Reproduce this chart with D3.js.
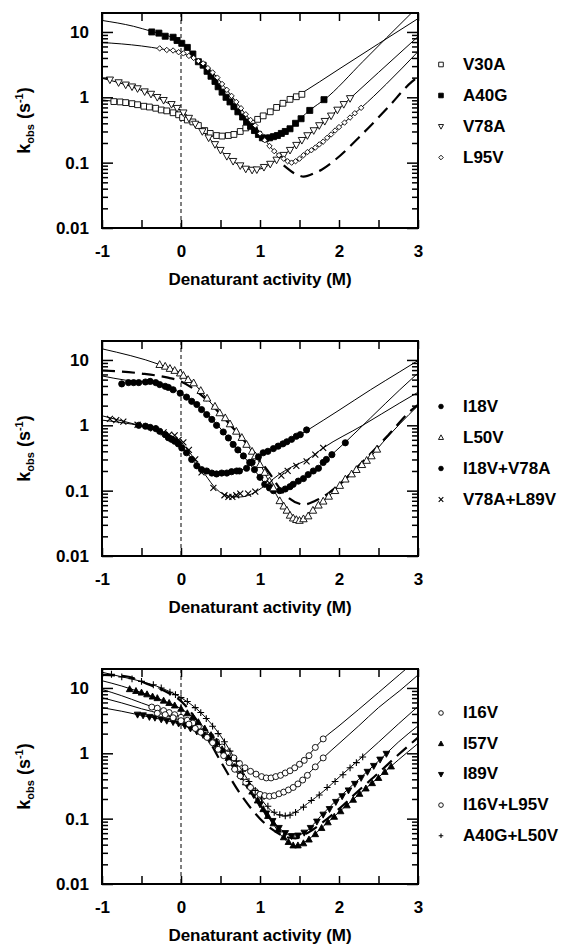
<!DOCTYPE html>
<html><head><meta charset="utf-8">
<script src="https://cdn.jsdelivr.net/npm/d3@7"></script>
<style>
html,body{margin:0;padding:0;background:#fff;}
svg{display:block;}
text{font-family:"Liberation Sans",Arial,Helvetica,sans-serif;font-weight:bold;fill:#000;}
</style></head><body>
<svg id="chart" width="561" height="944"></svg>
<script>
// ---------- axis ticks ----------
const xTickValues = [-1, 0, 1, 2, 3];
const xTickLabels = ["-1", "0", "1", "2", "3"];
const xMinorValues = [-0.5, 0.5, 1.5, 2.5];
const yTickValues = [0.01, 0.1, 1, 10];
const yTickLabels = ["0.01", "0.1", "1", "10"];
const xTitle = "Denaturant activity (M)";

// ---------- panel 1 ----------
const v30aPts = [[-0.85,0.86],[-0.77,0.85],[-0.7,0.83],[-0.62,0.8],[-0.55,0.77],[-0.47,0.73],[-0.4,0.71],[-0.32,0.68],[-0.25,0.64],[-0.18,0.62],[-0.1,0.58],[-0.03,0.54],[0.02,0.49],[0.08,0.45],[0.15,0.42],[0.22,0.37],[0.3,0.31],[0.37,0.28],[0.45,0.26],[0.52,0.255],[0.6,0.26],[0.67,0.27],[0.75,0.3],[0.82,0.34],[0.9,0.4],[0.97,0.46],[1.04,0.52],[1.13,0.6],[1.21,0.7],[1.29,0.81],[1.38,0.93],[1.46,1.02],[1.53,1.11]];
const v30aFit = [[-1,0.91],[-0.75,0.84],[-0.5,0.75],[-0.25,0.64],[0,0.5],[0.13,0.43],[0.26,0.34],[0.4,0.27],[0.55,0.255],[0.68,0.28],[0.8,0.33],[0.92,0.41],[1.1,0.57],[1.27,0.75],[1.5,1.1],[2.0,2.7],[2.5,6.6],[3.0,16]];
const a40gPts = [[-0.37,10.0],[-0.28,9.6],[-0.2,8.6],[-0.1,8.3],[-0.05,7.4],[0.01,6.7],[0.08,5.8],[0.15,4.6],[0.22,3.5],[0.28,3.1],[0.33,2.5],[0.38,2.1],[0.43,1.75],[0.47,1.45],[0.52,1.2],[0.57,1.0],[0.62,0.85],[0.67,0.72],[0.72,0.6],[0.78,0.5],[0.83,0.42],[0.88,0.36],[0.93,0.31],[0.98,0.27],[1.03,0.24],[1.07,0.235],[1.12,0.24],[1.17,0.25],[1.22,0.26],[1.27,0.28],[1.32,0.3],[1.38,0.33],[1.45,0.4],[1.52,0.47],[1.63,0.63],[1.81,0.92]];
const a40gFit = [[-1,15],[-0.6,12.2],[-0.37,10.2],[-0.15,8.6],[0,6.8],[0.1,5.3],[0.2,3.8],[0.3,2.7],[0.41,1.85],[0.5,1.3],[0.58,0.93],[0.68,0.66],[0.77,0.48],[0.9,0.33],[1.0,0.25],[1.07,0.235],[1.16,0.25],[1.29,0.29],[1.41,0.36],[1.51,0.47],[1.64,0.65],[1.81,0.91],[2.3,3.5],[2.6,8.1],[3.0,24.5]];
const v78aPts = [[-0.9,1.85],[-0.79,1.68],[-0.7,1.55],[-0.62,1.45],[-0.55,1.36],[-0.46,1.22],[-0.38,1.12],[-0.3,1.0],[-0.22,0.9],[-0.12,0.78],[-0.05,0.68],[0.03,0.58],[0.1,0.48],[0.18,0.39],[0.27,0.3],[0.35,0.24],[0.43,0.19],[0.5,0.155],[0.58,0.125],[0.66,0.105],[0.75,0.09],[0.82,0.08],[0.9,0.077],[0.96,0.078],[1.05,0.085],[1.13,0.095],[1.21,0.11],[1.3,0.13],[1.38,0.155],[1.46,0.185],[1.53,0.22],[1.6,0.26],[1.68,0.31],[1.75,0.37],[1.82,0.43],[1.9,0.52],[1.98,0.64],[2.06,0.78],[2.14,0.96]];
const v78aFit = [[-1,1.95],[-0.79,1.68],[-0.46,1.22],[-0.12,0.76],[0,0.63],[0.15,0.44],[0.3,0.28],[0.43,0.19],[0.6,0.12],[0.75,0.09],[0.9,0.078],[1.0,0.08],[1.21,0.11],[1.53,0.22],[1.82,0.43],[2.14,0.96],[2.5,2.4],[3.0,8.5]];
const l95vPts = [[-0.27,5.6],[-0.18,5.3],[-0.1,5.2],[-0.03,4.9],[0.03,4.7],[0.1,4.3],[0.16,4.0],[0.22,3.6],[0.28,3.3],[0.34,2.8],[0.4,2.4],[0.46,2.0],[0.52,1.6],[0.58,1.3],[0.64,1.05],[0.7,0.85],[0.76,0.68],[0.82,0.55],[0.88,0.45],[0.94,0.37],[1.0,0.28],[1.06,0.22],[1.12,0.18],[1.18,0.15],[1.24,0.13],[1.3,0.115],[1.35,0.105],[1.4,0.1],[1.45,0.105],[1.5,0.115],[1.55,0.13],[1.6,0.145],[1.65,0.155],[1.7,0.17],[1.75,0.19],[1.8,0.21],[1.85,0.24],[1.9,0.27],[1.95,0.31],[2.0,0.35],[2.07,0.41],[2.14,0.49],[2.2,0.57],[2.28,0.69]];
const l95vFit = [[-1,6.9],[-0.5,6.1],[-0.25,5.5],[0,4.8],[0.2,3.7],[0.43,2.2],[0.55,1.45],[0.68,0.91],[0.81,0.56],[0.94,0.36],[1.04,0.25],[1.12,0.18],[1.21,0.14],[1.3,0.115],[1.38,0.102],[1.47,0.108],[1.57,0.135],[1.78,0.2],[1.97,0.32],[2.2,0.57],[2.28,0.69],[2.6,1.6],[3.0,5.0]];
// wild-type reference (dashed), panels 1 and 2
const wtFit = [[-1,6.9],[-0.5,6.2],[-0.18,5.4],[0,4.7],[0.25,2.95],[0.5,1.48],[0.75,0.68],[0.9,0.42],[1.1,0.2],[1.3,0.091],[1.5,0.063],[1.55,0.061],[1.7,0.07],[1.78,0.078],[1.95,0.11],[2.29,0.27],[2.62,0.7],[2.92,1.72],[3.0,2.05]];

// ---------- panel 2 ----------
const i18vPts = [[-0.75,4.3],[-0.665,4.5],[-0.6,4.5],[-0.535,4.5],[-0.45,4.6],[-0.39,4.7],[-0.32,4.5],[-0.27,4.2],[-0.2,3.95],[-0.16,3.8],[-0.1,3.5],[-0.01,3.1],[0.07,2.7],[0.135,2.33],[0.2,2.08],[0.26,1.74],[0.325,1.46],[0.39,1.23],[0.45,1.0],[0.535,0.79],[0.6,0.64],[0.66,0.51],[0.72,0.42],[0.79,0.34],[0.87,0.27],[0.93,0.21],[1.0,0.16],[1.06,0.125],[1.12,0.11],[1.17,0.1],[1.25,0.1],[1.32,0.106],[1.38,0.115],[1.42,0.125],[1.485,0.14],[1.55,0.153],[1.61,0.176],[1.675,0.2],[1.74,0.22],[1.8,0.27],[1.84,0.3],[1.91,0.355],[2.08,0.54]];
const i18vFit = [[-1,5.7],[-0.7,4.9],[-0.4,4.5],[-0.2,3.95],[0,3.1],[0.2,2.05],[0.39,1.25],[0.535,0.8],[0.66,0.52],[0.79,0.34],[0.9,0.23],[1.0,0.16],[1.1,0.115],[1.2,0.1],[1.3,0.104],[1.42,0.124],[1.55,0.155],[1.7,0.21],[1.84,0.3],[2.08,0.55],[2.4,1.3],[2.77,3.5],[3.0,6.3]];
const l50vPts = [[-0.27,8.5],[-0.2,8.0],[-0.14,7.4],[-0.08,6.9],[-0.01,6.3],[0.03,5.8],[0.09,5.0],[0.16,4.45],[0.25,3.4],[0.33,2.6],[0.43,1.95],[0.49,1.55],[0.56,1.3],[0.62,1.05],[0.7,0.81],[0.77,0.65],[0.83,0.51],[0.9,0.4],[0.94,0.34],[1.0,0.25],[1.06,0.19],[1.12,0.14],[1.17,0.11],[1.25,0.07],[1.3,0.058],[1.34,0.05],[1.38,0.042],[1.42,0.038],[1.46,0.036],[1.5,0.035],[1.55,0.037],[1.61,0.041],[1.67,0.05],[1.74,0.06],[1.8,0.069],[1.87,0.082],[1.95,0.1],[2.01,0.12],[2.08,0.15],[2.16,0.18],[2.22,0.21],[2.29,0.25],[2.35,0.29],[2.41,0.34],[2.48,0.43]];
const l50vFit = [[-1,14.8],[-0.27,8.5],[0,6.3],[0.155,4.5],[0.325,2.6],[0.49,1.55],[0.62,1.05],[0.77,0.65],[0.895,0.4],[1.0,0.26],[1.085,0.16],[1.17,0.105],[1.25,0.07],[1.34,0.05],[1.42,0.039],[1.5,0.035],[1.6,0.041],[1.74,0.061],[1.87,0.082],[2.01,0.12],[2.16,0.18],[2.29,0.25],[2.41,0.34],[2.55,0.54],[2.77,1.05],[3.0,2.0]];
const i18vV78aPts = [[-0.535,1.0],[-0.45,0.97],[-0.39,0.93],[-0.32,0.89],[-0.27,0.81],[-0.2,0.72],[-0.16,0.645],[-0.12,0.61],[-0.08,0.57],[-0.035,0.52],[0.01,0.45],[0.07,0.38],[0.135,0.3],[0.2,0.24],[0.26,0.21],[0.325,0.2],[0.39,0.186],[0.45,0.18],[0.515,0.186],[0.58,0.186],[0.64,0.195],[0.705,0.2],[0.74,0.2],[0.83,0.22],[0.9,0.27],[0.98,0.33],[1.04,0.38],[1.1,0.4],[1.17,0.44],[1.23,0.48],[1.29,0.52],[1.34,0.56],[1.4,0.61],[1.46,0.68],[1.51,0.72],[1.59,0.85]];
const i18vV78aFit = [[-1,1.2],[-0.75,1.1],[-0.5,0.98],[-0.3,0.86],[-0.1,0.6],[0.07,0.39],[0.2,0.25],[0.3,0.205],[0.45,0.183],[0.6,0.188],[0.75,0.203],[0.85,0.235],[0.95,0.3],[1.04,0.37],[1.17,0.44],[1.29,0.52],[1.4,0.61],[1.51,0.72],[1.6,0.84],[2.0,1.7],[2.4,3.5],[2.77,6.6],[3.0,9.8]];
const v78aL89vPts = [[-0.9,1.25],[-0.82,1.2],[-0.73,1.14],[-0.55,1.02],[-0.35,0.9],[-0.22,0.78],[-0.15,0.72],[-0.08,0.7],[-0.03,0.6],[0.03,0.55],[0.1,0.42],[0.18,0.3],[0.26,0.19],[0.41,0.11],[0.55,0.085],[0.6,0.08],[0.65,0.08],[0.7,0.085],[0.75,0.09],[0.85,0.09],[0.94,0.097],[1.12,0.13],[1.27,0.17],[1.35,0.2],[1.46,0.24],[1.59,0.28],[1.7,0.355],[1.8,0.45]];
const v78aL89vFit = [[-1,1.4],[-0.75,1.17],[-0.5,0.98],[-0.25,0.8],[0,0.55],[0.15,0.33],[0.3,0.18],[0.45,0.105],[0.6,0.083],[0.75,0.08],[0.94,0.095],[1.1,0.13],[1.25,0.18],[1.4,0.23],[1.6,0.3],[1.8,0.45],[2.3,1.0],[2.77,2.2],[3.0,3.2]];

// ---------- panel 3 ----------
const i16vPts = [[-0.37,5.1],[-0.3,4.9],[-0.22,4.5],[-0.15,4.2],[-0.08,3.9],[0.0,3.55],[0.08,3.2],[0.15,2.9],[0.22,2.55],[0.3,2.15],[0.38,1.8],[0.45,1.5],[0.52,1.25],[0.6,1.02],[0.67,0.85],[0.74,0.7],[0.81,0.6],[0.88,0.53],[0.95,0.48],[1.02,0.44],[1.08,0.42],[1.14,0.42],[1.2,0.44],[1.26,0.46],[1.32,0.5],[1.38,0.54],[1.44,0.6],[1.5,0.68],[1.56,0.78],[1.62,0.92],[1.7,1.23],[1.8,1.66]];
const i16vFit = [[-1,9.5],[-0.75,7.6],[-0.5,5.9],[-0.25,4.6],[0,3.55],[0.25,2.4],[0.5,1.32],[0.75,0.68],[1.0,0.45],[1.1,0.42],[1.25,0.46],[1.4,0.56],[1.5,0.68],[1.6,0.89],[1.7,1.23],[1.8,1.66],[2.0,2.63],[2.25,4.7],[2.5,8.5],[2.77,16.2],[3.0,28]];
const i57vPts = [[-0.65,9.6],[-0.57,9.0],[-0.5,8.5],[-0.43,8.0],[-0.36,7.4],[-0.3,7.0],[-0.22,6.4],[-0.15,5.9],[-0.08,5.4],[0.0,4.8],[0.08,4.1],[0.15,3.6],[0.22,3.0],[0.3,2.4],[0.38,1.9],[0.45,1.5],[0.52,1.15],[0.6,0.85],[0.68,0.62],[0.75,0.48],[0.82,0.36],[0.9,0.26],[0.97,0.19],[1.04,0.14],[1.1,0.11],[1.17,0.085],[1.23,0.068],[1.3,0.052],[1.36,0.044],[1.42,0.039],[1.48,0.039],[1.55,0.042],[1.62,0.048],[1.7,0.058],[1.78,0.072],[1.86,0.088],[1.94,0.107],[2.02,0.13],[2.1,0.16],[2.18,0.195],[2.26,0.24],[2.34,0.29],[2.42,0.35],[2.5,0.42],[2.58,0.52],[2.66,0.63]];
const i57vFit = [[-1,12.9],[-0.75,10.7],[-0.5,8.5],[-0.25,6.6],[0,4.8],[0.25,2.8],[0.5,1.26],[0.75,0.48],[1.0,0.166],[1.15,0.089],[1.3,0.05],[1.45,0.038],[1.6,0.047],[1.8,0.076],[2.0,0.126],[2.25,0.234],[2.5,0.43],[2.75,0.79],[3.0,1.41]];
const i89vPts = [[-0.55,3.9],[-0.48,3.8],[-0.4,3.6],[-0.33,3.5],[-0.25,3.3],[-0.18,3.15],[-0.1,3.0],[-0.03,2.85],[0.05,2.65],[0.12,2.4],[0.2,2.15],[0.28,1.9],[0.36,1.6],[0.44,1.3],[0.52,1.05],[0.6,0.8],[0.68,0.6],[0.76,0.44],[0.84,0.32],[0.92,0.23],[1.0,0.165],[1.08,0.12],[1.16,0.092],[1.24,0.072],[1.32,0.06],[1.4,0.054],[1.48,0.055],[1.56,0.061],[1.64,0.072],[1.72,0.09],[1.8,0.115],[1.88,0.14],[1.96,0.18],[2.04,0.22],[2.12,0.27],[2.2,0.34],[2.28,0.42],[2.36,0.52],[2.44,0.64],[2.52,0.8],[2.6,0.98]];
const i89vFit = [[-1,5.0],[-0.75,4.4],[-0.5,3.8],[-0.25,3.3],[0,2.75],[0.25,2.0],[0.5,1.12],[0.75,0.45],[1.0,0.16],[1.15,0.095],[1.3,0.063],[1.42,0.054],[1.55,0.06],[1.8,0.12],[2.0,0.21],[2.25,0.4],[2.5,0.76],[2.75,1.48],[3.0,2.63]];
const i16vL95vPts = [[-0.3,4.1],[-0.2,3.9],[-0.1,3.5],[0.0,3.16],[0.1,2.8],[0.18,2.4],[0.25,2.1],[0.33,1.75],[0.4,1.45],[0.47,1.15],[0.54,0.92],[0.61,0.72],[0.68,0.57],[0.75,0.45],[0.82,0.36],[0.88,0.3],[0.94,0.26],[1.0,0.235],[1.06,0.225],[1.12,0.22],[1.18,0.225],[1.24,0.24],[1.3,0.255],[1.36,0.275],[1.42,0.3],[1.48,0.34],[1.54,0.39],[1.6,0.46],[1.7,0.62],[1.8,0.85]];
const i16vL95vFit = [[-1,7.1],[-0.75,5.9],[-0.5,4.8],[-0.25,4.0],[0,3.16],[0.25,2.1],[0.5,1.05],[0.75,0.44],[0.9,0.28],[1.0,0.234],[1.1,0.22],[1.25,0.24],[1.4,0.3],[1.6,0.47],[1.8,0.85],[2.0,1.41],[2.25,2.63],[2.5,5.0],[2.77,9.1],[3.0,15.8]];
const a40gL50vPts = [[-0.88,16.2],[-0.75,14.8],[-0.62,13.8],[-0.5,12.6],[-0.35,11.2],[-0.25,10.0],[-0.14,8.6],[-0.07,7.9],[0.0,7.1],[0.08,6.2],[0.18,5.0],[0.25,4.2],[0.32,3.4],[0.4,2.6],[0.47,2.0],[0.55,1.5],[0.62,1.08],[0.7,0.76],[0.78,0.53],[0.86,0.37],[0.94,0.27],[1.02,0.2],[1.1,0.155],[1.18,0.125],[1.25,0.115],[1.32,0.11],[1.38,0.113],[1.45,0.125],[1.55,0.15],[1.65,0.19],[1.75,0.23],[1.85,0.3],[1.95,0.37],[2.05,0.47],[2.14,0.6],[2.22,0.72],[2.3,0.88]];
const a40gL50vFit = [[-1,17.4],[-0.75,14.8],[-0.5,12.6],[-0.25,10],[0,7.1],[0.25,4.2],[0.5,1.86],[0.75,0.6],[1.0,0.21],[1.15,0.13],[1.3,0.11],[1.45,0.126],[1.6,0.17],[1.8,0.26],[2.0,0.43],[2.25,0.79],[2.5,1.48],[2.75,2.8],[3.0,5.2]];
const dashed3Fit = [[-1,15.8],[-0.7,15.1],[-0.4,11.2],[-0.2,8.9],[0,6.3],[0.25,2.6],[0.5,0.76],[0.75,0.24],[1.0,0.1],[1.15,0.069],[1.3,0.054],[1.45,0.05],[1.6,0.06],[1.8,0.089],[2.0,0.141],[2.25,0.27],[2.5,0.5],[2.75,0.95],[3.0,1.74]];

// ---------- panel configuration ----------
const panels = [
  { top: 13, legendBase: 69.5, legendStep: 31, dashed: wtFit, dashFrom: 1.3,
    series: [
      { name: "V30A", pts: v30aPts, fit: v30aFit, sym: "square", fill: "#fff", size: 2.9 },
      { name: "A40G", pts: a40gPts, fit: a40gFit, sym: "square", fill: "#000", size: 3.0 },
      { name: "V78A", pts: v78aPts, fit: v78aFit, sym: "triDown", fill: "#fff", size: 3.3 },
      { name: "L95V", pts: l95vPts, fit: l95vFit, sym: "diamond", fill: "#fff", size: 2.7 }
    ] },
  { top: 341, legendBase: 411.5, legendStep: 31, dashed: wtFit, dashFrom: -1,
    series: [
      { name: "I18V", pts: i18vPts, fit: i18vFit, sym: "circle", fill: "#000", size: 3.1 },
      { name: "L50V", pts: l50vPts, fit: l50vFit, sym: "triUp", fill: "#fff", size: 3.4 },
      { name: "I18V+V78A", pts: i18vV78aPts, fit: i18vV78aFit, sym: "circle", fill: "#000", size: 3.1 },
      { name: "V78A+L89V", pts: v78aL89vPts, fit: v78aL89vFit, sym: "times", fill: "none", size: 3.0 }
    ] },
  { top: 669, legendBase: 718, legendStep: 30.7, dashed: dashed3Fit, dashFrom: -1,
    series: [
      { name: "I16V", pts: i16vPts, fit: i16vFit, sym: "circle", fill: "#fff", size: 3.0 },
      { name: "I57V", pts: i57vPts, fit: i57vFit, sym: "triUp", fill: "#000", size: 3.0 },
      { name: "I89V", pts: i89vPts, fit: i89vFit, sym: "triDown", fill: "#000", size: 3.0 },
      { name: "I16V+L95V", pts: i16vL95vPts, fit: i16vL95vFit, sym: "circle", fill: "#fff", size: 3.0 },
      { name: "A40G+L50V", pts: a40gL50vPts, fit: a40gL50vFit, sym: "plus", fill: "none", size: 3.4 }
    ] }
];

const plotLeft = 102, plotRight = 418, panelH = 215;
const svg = d3.select("#chart");
const x = d3.scaleLinear().domain([-1, 3]).range([plotLeft, plotRight]);

function symPath(type, s) {
  switch (type) {
    case "square": return `M${-s},${-s}H${s}V${s}H${-s}Z`;
    case "triUp": return `M0,${-s * 1.15}L${s * 1.1},${s * 0.85}L${-s * 1.1},${s * 0.85}Z`;
    case "triDown": return `M0,${s * 1.15}L${s * 1.1},${-s * 0.85}L${-s * 1.1},${-s * 0.85}Z`;
    case "diamond": return `M0,${-s}L${s},0L0,${s}L${-s},0Z`;
    case "times": return `M${-s},${-s}L${s},${s}M${-s},${s}L${s},${-s}`;
    case "plus": return `M${-s},0H${s}M0,${-s}V${s}`;
  }
  return "";
}
function drawSym(g, ser, cx, cy, s) {
  if (ser.sym === "circle") {
    g.append("circle").attr("cx", cx).attr("cy", cy).attr("r", s)
      .attr("fill", ser.fill).attr("stroke", "#000").attr("stroke-width", 0.9);
  } else {
    g.append("path").attr("transform", `translate(${cx},${cy})`).attr("d", symPath(ser.sym, s))
      .attr("fill", ser.fill).attr("stroke", "#000").attr("stroke-width", ser.fill === "none" ? 1.1 : 0.9);
  }
}

panels.forEach((p, pi) => {
  const top = p.top, bottom = top + panelH;
  const y = d3.scaleLog().domain([0.01, 19.5]).range([bottom, top]);
  const g = svg.append("g");
  const clipId = "clip" + pi;
  svg.append("clipPath").attr("id", clipId).append("rect")
    .attr("x", plotLeft).attr("y", top).attr("width", plotRight - plotLeft).attr("height", panelH);

  // zero line
  g.append("line").attr("x1", x(0)).attr("x2", x(0)).attr("y1", top).attr("y2", bottom)
    .attr("stroke", "#000").attr("stroke-width", 1).attr("stroke-dasharray", "4,3");

  const plot = g.append("g").attr("clip-path", `url(#${clipId})`);
  const line = d3.line().x(d => x(d[0])).y(d => y(d[1])).curve(d3.curveMonotoneX);

  p.series.forEach(ser => {
    plot.append("path").attr("d", line(ser.fit)).attr("fill", "none")
      .attr("stroke", "#000").attr("stroke-width", 1);
  });
  plot.append("path").attr("d", line(p.dashed.filter(d => d[0] >= p.dashFrom)))
    .attr("fill", "none").attr("stroke", "#000").attr("stroke-width", 2.2)
    .attr("stroke-dasharray", "13,7");

  p.series.forEach(ser => {
    const mg = plot.append("g");
    ser.pts.forEach(d => drawSym(mg, ser, x(d[0]), y(d[1]), ser.size));
  });

  // frame
  g.append("rect").attr("x", plotLeft).attr("y", top).attr("width", plotRight - plotLeft)
    .attr("height", panelH).attr("fill", "none").attr("stroke", "#000").attr("stroke-width", 2);

  const yMinor = y.ticks().filter(v => yTickValues.indexOf(v) < 0 && v < 19.5);
  const styleAxis = sel => { sel.select(".domain").remove(); sel.attr("font-family", null).attr("font-size", null);
    sel.selectAll(".tick line").attr("stroke-width", 1.5); };

  g.append("g").attr("transform", `translate(0,${bottom})`)
    .call(d3.axisBottom(x).tickValues(xTickValues).tickSize(-8).tickPadding(17)
      .tickFormat(d => xTickLabels[xTickValues.indexOf(d)])).call(styleAxis)
    .selectAll("text").attr("font-size", 17);
  g.append("g").attr("transform", `translate(0,${bottom})`)
    .call(d3.axisBottom(x).tickValues(xMinorValues).tickSize(-8).tickFormat("")).call(styleAxis);
  g.append("g").attr("transform", `translate(0,${top})`)
    .call(d3.axisTop(x).tickValues(xTickValues.concat(xMinorValues)).tickSize(-8).tickFormat("")).call(styleAxis);

  g.append("g").attr("transform", `translate(${plotLeft},0)`)
    .call(d3.axisLeft(y).tickValues(yTickValues).tickSize(-11).tickPadding(13)
      .tickFormat(d => yTickLabels[yTickValues.indexOf(d)])).call(styleAxis)
    .selectAll("text").attr("font-size", 17);
  g.append("g").attr("transform", `translate(${plotLeft},0)`)
    .call(d3.axisLeft(y).tickValues(yMinor).tickSize(-6).tickFormat("")).call(styleAxis);
  g.append("g").attr("transform", `translate(${plotRight},0)`)
    .call(d3.axisRight(y).tickValues(yTickValues).tickSize(-11).tickFormat("")).call(styleAxis);
  g.append("g").attr("transform", `translate(${plotRight},0)`)
    .call(d3.axisRight(y).tickValues(yMinor).tickSize(-6).tickFormat("")).call(styleAxis);

  // x title
  g.append("text").attr("x", (plotLeft + plotRight) / 2).attr("y", bottom + 57)
    .attr("text-anchor", "middle").attr("font-size", 17).text(xTitle);

  // y title
  const yt = g.append("text").attr("transform", `translate(30,${top + panelH / 2}) rotate(-90)`)
    .attr("text-anchor", "middle").attr("font-size", 18);
  yt.append("tspan").text("k");
  yt.append("tspan").attr("font-size", 11).attr("dy", 4).text("obs");
  yt.append("tspan").attr("dy", -4).text(" (s");
  yt.append("tspan").attr("font-size", 11).attr("dy", -7).text("-1");
  yt.append("tspan").attr("dy", 7).text(")");

  // legend
  p.series.forEach((ser, i) => {
    const by = p.legendBase + i * p.legendStep;
    drawSym(g, ser, 441, by - 5, 2.3);
    g.append("text").attr("x", 463).attr("y", by).attr("font-size", 17).text(ser.name);
  });
});
</script>
</body></html>
